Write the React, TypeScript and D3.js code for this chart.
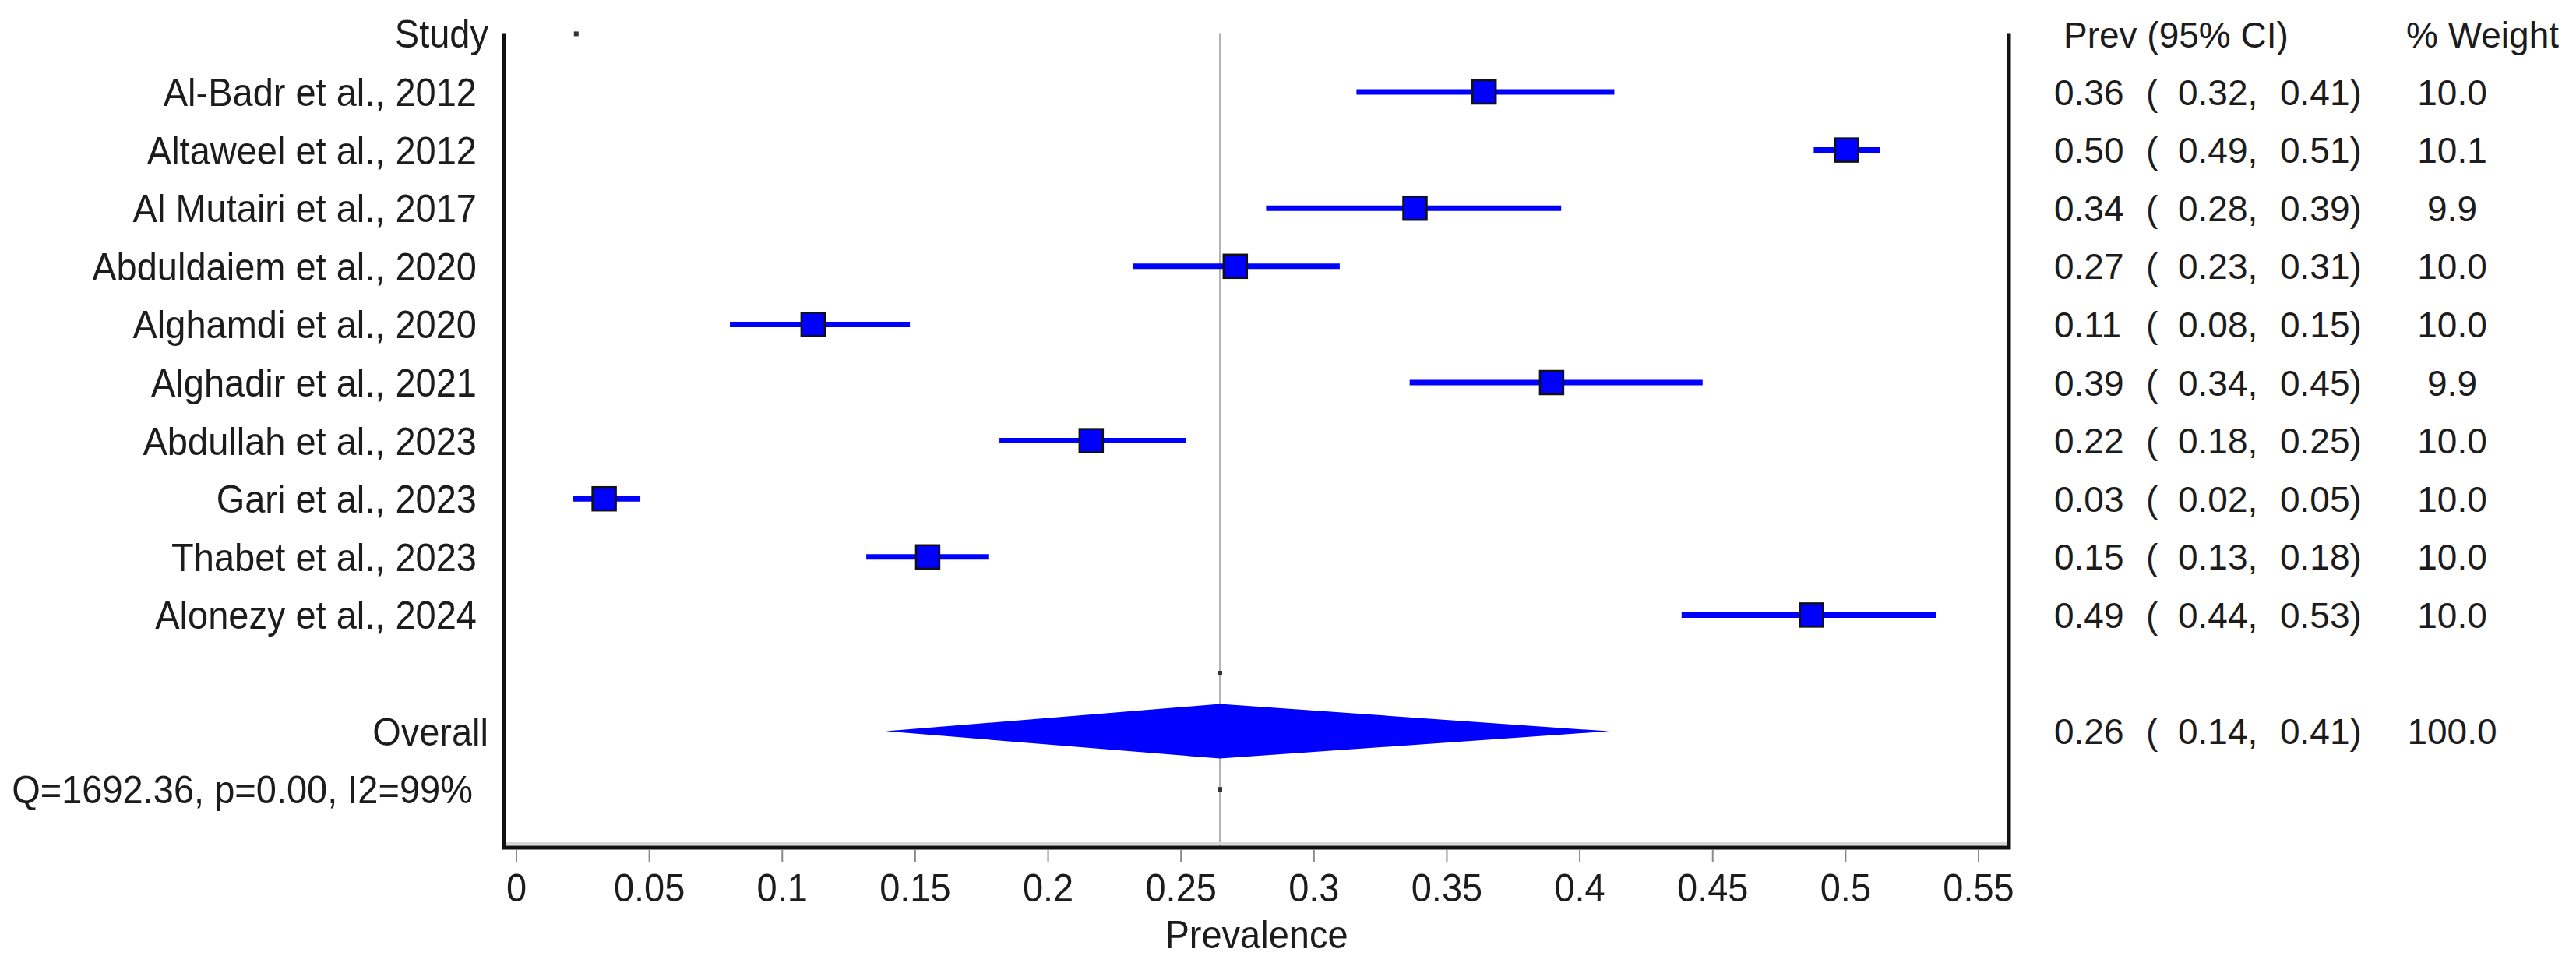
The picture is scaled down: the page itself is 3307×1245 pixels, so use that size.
import React from 'react';
import { scaleLinear, polygonHull } from 'd3';

// forest plot: prevalence per study
const studies = [
  'Al-Badr et al., 2012',
  'Altaweel et al., 2012',
  'Al Mutairi et al., 2017',
  'Abduldaiem et al., 2020',
  'Alghamdi et al., 2020',
  'Alghadir et al., 2021',
  'Abdullah et al., 2023',
  'Gari et al., 2023',
  'Thabet et al., 2023',
  'Alonezy et al., 2024',
];
const prev = [0.364, 0.5004, 0.338, 0.2704, 0.1116, 0.3894, 0.2162, 0.033, 0.1547, 0.4872];
const lower = [0.316, 0.488, 0.282, 0.2318, 0.0803, 0.336, 0.1817, 0.0214, 0.1316, 0.4383];
const upper = [0.413, 0.513, 0.393, 0.3097, 0.148, 0.4462, 0.2517, 0.0466, 0.1778, 0.534];
const weights = [10.0, 10.1, 9.9, 10.0, 10.0, 9.9, 10.0, 10.0, 10.0, 10.0];

const overall = { est: 0.2646, lo: 0.139, hi: 0.411, weight: 100.0 };
const heterogeneity = 'Q=1692.36, p=0.00, I2=99%';

const tickValues = [0, 0.05, 0.1, 0.15, 0.2, 0.25, 0.3, 0.35, 0.4, 0.45, 0.5, 0.55];
const tickLabels = ['0', '0.05', '0.1', '0.15', '0.2', '0.25', '0.3', '0.35', '0.4', '0.45', '0.5', '0.55'];

// stray marker dots the software leaves on empty rows: [value, row]
const strayDots = [
  [0.0225, -1],
  [0.2646, 10],
  [0.2646, 12],
];

const BLUE = '#0000ff';
const FONT = '"Liberation Sans", Arial, sans-serif';
const INK = '#1c1c1c';

export default function App() {
  const x = scaleLinear().domain([0, 0.55]).range([663, 2540]);
  const row = scaleLinear().domain([0, 1]).range([118, 192.6]);

  const left = x(0) - 16;
  const right = x(0.55) + 39;
  const top = row(-1) - 1;
  const bottom = 1088;

  const sq = 30;
  const labelRight = 612;
  const headRight = 627;

  const diamondY = row(11);
  const diamond = [
    [x(overall.lo), diamondY],
    [x(overall.est), diamondY - 35],
    [x(overall.hi), diamondY],
    [x(overall.est), diamondY + 35],
  ];

  const leftText = (txt, xx, yy, anchor = 'end', key?) => (
    <text
      key={key}
      transform={`translate(${xx},${yy}) scale(1,1.08)`}
      textAnchor={anchor}
      fontFamily={FONT}
      fontSize={47}
      fill={INK}
    >
      {txt}
    </text>
  );

  const colEst = 2637;
  const colParen = 2755;
  const colLo = 2796;
  const colHi = 2927;
  const colW = 3148;

  const tableRow = (y, est, lo, hi, w, key) => (
    <g key={key} fontFamily={FONT} fontSize={46} fill={INK}>
      <text x={colEst} y={y + 16.5}>{est.toFixed(2)}</text>
      <text x={colParen} y={y + 16.5}>(</text>
      <text x={colLo} y={y + 16.5}>{lo.toFixed(2)},</text>
      <text x={colHi} y={y + 16.5}>{hi.toFixed(2)})</text>
      <text x={colW} y={y + 16.5} textAnchor="middle">{w.toFixed(1)}</text>
    </g>
  );

  return (
    <svg
      width={3307}
      height={1245}
      style={{ position: 'absolute', left: 0, top: 0, background: '#fff' }}
    >
      <rect width={3307} height={1245} fill="#fff" />

      {/* reference line at pooled estimate */}
      <line
        x1={x(overall.est)}
        x2={x(overall.est)}
        y1={top}
        y2={bottom}
        stroke="#b4b4b4"
        strokeWidth={2}
      />

      {/* frame */}
      <line x1={left} x2={right} y1={bottom - 5} y2={bottom - 5} stroke="#d6d6d6" strokeWidth={4} />
      <path
        d={`M${left},${top} V${bottom} H${right} V${top}`}
        fill="none"
        stroke="#111"
        strokeWidth={5}
      />

      {/* ticks */}
      {tickValues.map((t, i) => (
        <g key={t}>
          <line x1={x(t)} x2={x(t)} y1={bottom + 3} y2={bottom + 19} stroke="#8a8a8a" strokeWidth={2} />
          {leftText(tickLabels[i], x(t), 1157, 'middle')}
        </g>
      ))}
      {leftText('Prevalence', (left + right) / 2, 1217, 'middle')}

      {/* header */}
      {leftText('Study', headRight, row(-1) + 18)}
      <text x={2649} y={row(-1) + 18} fontFamily={FONT} fontSize={46} fill={INK}>
        Prev (95% CI)
      </text>
      <text x={3089} y={row(-1) + 18} fontFamily={FONT} fontSize={46} fill={INK}>
        % Weight
      </text>

      {/* studies */}
      {studies.map((s, i) => {
        const y = row(i);
        return (
          <g key={s}>
            {leftText(s, labelRight, y + 18)}
            <line x1={x(lower[i])} x2={x(upper[i])} y1={y} y2={y} stroke={BLUE} strokeWidth={7} />
            <rect
              x={x(prev[i]) - sq / 2}
              y={y - sq / 2}
              width={sq}
              height={sq}
              fill={BLUE}
              stroke="#111"
              strokeWidth={2.5}
            />
            {tableRow(y, prev[i], lower[i], upper[i], weights[i], 'r' + i)}
          </g>
        );
      })}

      {/* stray dots */}
      {strayDots.map(([v, r], i) => (
        <rect key={i} x={x(v) - 3} y={row(r) - 3} width={6} height={6} fill="#333" />
      ))}

      {/* pooled */}
      <polygon points={diamond.map((p) => p.join(',')).join(' ')} fill={BLUE} />
      {leftText('Overall', headRight, diamondY + 18)}
      {tableRow(diamondY, overall.est, overall.lo, overall.hi, overall.weight, 'ov')}
      {leftText(heterogeneity, labelRight - 5, row(12) + 18)}
    </svg>
  );
}
